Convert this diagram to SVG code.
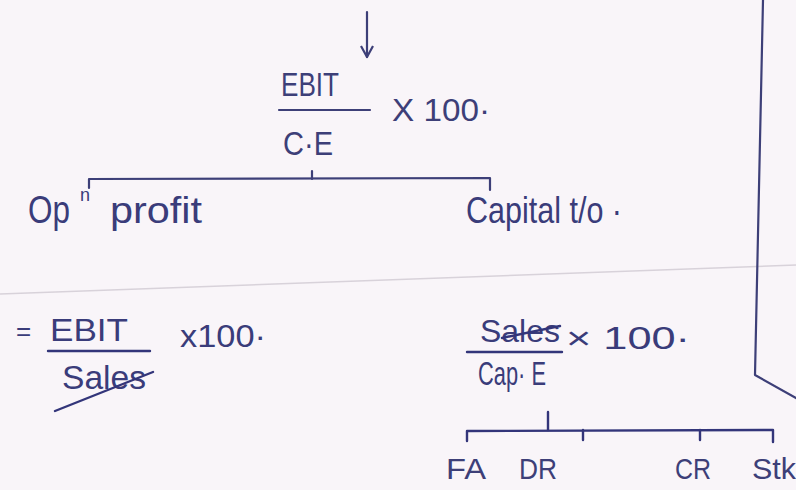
<svg xmlns="http://www.w3.org/2000/svg" width="796" height="490" viewBox="0 0 796 490">
<defs>
<style>
.ink{fill:#3d3f78;font-family:"Liberation Sans","DejaVu Sans",sans-serif;}
.pen{fill:#3a3c7a;font-family:"Liberation Sans","DejaVu Sans",sans-serif;}
.ln{stroke:#3d3f78;stroke-width:2.2;fill:none;stroke-linecap:round;stroke-linejoin:round;}
.bl{stroke:#33357a;stroke-width:2.4;fill:none;stroke-linecap:round;stroke-linejoin:round;}
</style>
<marker id="ah" markerWidth="14" markerHeight="14" refX="12" refY="7" orient="auto" markerUnits="userSpaceOnUse" viewBox="0 0 14 14">
<path d="M1,1 L12,7 L1,13" fill="none" stroke="#3d3f78" stroke-width="2.2" stroke-linejoin="round"/>
</marker>
</defs>
<rect width="796" height="490" fill="#f9f5f9"/>
<!-- paper features -->
<line x1="0" y1="294" x2="796" y2="265" stroke="#d8d2da" stroke-width="1.5"/>
<path class="ln" d="M763,0 L755,375 L796,398"/>

<g id="connectors">
<line class="ln" x1="367" y1="12" x2="367" y2="57" marker-end="url(#ah)"/>
<path class="ln" d="M89,188 L89,179 L490,178 L490,190"/>
<line class="ln" x1="312" y1="171" x2="312" y2="179"/>
<line class="bl" x1="548" y1="412" x2="548" y2="430"/>
<path class="bl" d="M467,441 L467,431 L773,430 L773,442"/>
<line class="bl" x1="583" y1="430" x2="583" y2="440"/>
<line class="bl" x1="700" y1="430" x2="700" y2="440"/>
</g>

<g id="node-roce">
<text class="ink" x="281" y="96" font-size="34" textLength="58" lengthAdjust="spacingAndGlyphs">EBIT</text>
<line class="ln" x1="279" y1="110" x2="370" y2="110"/>
<text class="ink" x="392" y="121" font-size="32" textLength="98" lengthAdjust="spacingAndGlyphs">X 100·</text>
<text class="ink" x="283" y="155" font-size="34" textLength="50" lengthAdjust="spacingAndGlyphs">C·E</text>
</g>

<g id="node-opn-profit">
<text class="pen" x="28" y="223" font-size="38" textLength="42" lengthAdjust="spacingAndGlyphs">Op</text>
<text class="pen" x="80" y="201" font-size="18">n</text>
<text class="pen" x="110" y="223" font-size="36" textLength="92" lengthAdjust="spacingAndGlyphs">profit</text>
</g>

<g id="node-capital-to">
<text class="pen" x="466" y="223" font-size="36" textLength="156" lengthAdjust="spacingAndGlyphs">Capital t/o ·</text>
</g>

<g id="node-opn-formula">
<text class="pen" x="16" y="340" font-size="26">=</text>
<text class="pen" x="50" y="341" font-size="32" textLength="78" lengthAdjust="spacingAndGlyphs">EBIT</text>
<line class="bl" x1="48" y1="351" x2="150" y2="351"/>
<text class="pen" x="180" y="347" font-size="32" textLength="86" lengthAdjust="spacingAndGlyphs">x100·</text>
<text class="pen" x="62" y="389" font-size="34" textLength="84" lengthAdjust="spacingAndGlyphs">Sales</text>
<line class="bl" x1="55" y1="411" x2="153" y2="372"/>
</g>

<g id="node-cap-formula">
<text class="pen" x="480" y="342" font-size="32" textLength="80" lengthAdjust="spacingAndGlyphs">Sales</text>
<line class="bl" x1="502" y1="338" x2="560" y2="326"/>
<line class="bl" x1="467" y1="352" x2="562" y2="352"/>
<text class="pen" x="566" y="349" font-size="32" textLength="124" lengthAdjust="spacingAndGlyphs">× 100·</text>
<text class="pen" x="478" y="385" font-size="34" textLength="68" lengthAdjust="spacingAndGlyphs">Cap· E</text>
</g>

<g id="node-fa"><text class="ink" x="446" y="479" font-size="30" textLength="40" lengthAdjust="spacingAndGlyphs">FA</text></g>
<g id="node-dr"><text class="ink" x="519" y="479" font-size="30" textLength="38" lengthAdjust="spacingAndGlyphs">DR</text></g>
<g id="node-cr"><text class="ink" x="675" y="479" font-size="30" textLength="36" lengthAdjust="spacingAndGlyphs">CR</text></g>
<g id="node-stk"><text class="ink" x="752" y="479" font-size="30" textLength="44" lengthAdjust="spacingAndGlyphs">Stk</text></g>
</svg>
